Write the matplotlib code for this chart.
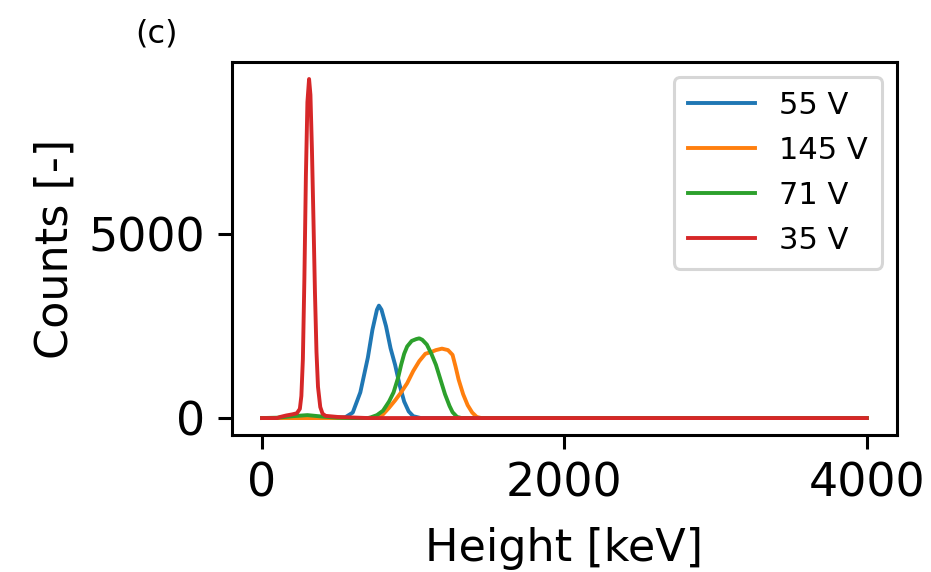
import matplotlib
matplotlib.use("Agg")
import matplotlib.pyplot as plt

# pulse height spectra, counts
labels = ["55 V", "145 V", "71 V", "35 V"]

x_55 = [0, 500, 550, 600, 650, 700, 730, 760, 773, 790, 820, 850, 880, 910, 940, 970, 1000, 1050, 4000]
y_55 = [0, 0, 20, 150, 700, 1650, 2400, 2950, 3060, 2950, 2500, 1900, 1450, 900, 450, 180, 50, 0, 0]

x_145 = [0, 740, 770, 800, 840, 880, 920, 960, 1000, 1040, 1080, 1120, 1150, 1190, 1230, 1260,
         1280, 1300, 1330, 1360, 1390, 1420, 1450, 4000]
y_145 = [0, 0, 30, 100, 280, 480, 700, 950, 1280, 1550, 1750, 1800, 1850, 1890, 1850, 1720,
         1400, 1050, 650, 350, 150, 30, 0, 0]

x_71 = [0, 100, 200, 300, 400, 500, 600, 700, 720, 760, 800, 840, 870, 900, 920, 940, 960, 990,
        1020, 1040, 1060, 1090, 1120, 1150, 1180, 1210, 1240, 1260, 1290, 1320, 4000]
y_71 = [0, 10, 50, 80, 40, 10, 0, 0, 20, 80, 200, 450, 700, 1100, 1450, 1750, 1950, 2100,
        2150, 2170, 2130, 2000, 1750, 1450, 1050, 650, 330, 160, 30, 0, 0]

x_35 = [0, 100, 120, 160, 200, 230, 250, 260, 270, 280, 290, 300, 311, 320, 330, 340, 350, 360,
        370, 385, 400, 420, 500, 700, 4000]
y_35 = [0, 0, 30, 70, 100, 130, 250, 600, 1600, 3800, 6600, 8600, 9230, 8800, 7300, 5400, 3400,
        1800, 850, 300, 120, 60, 30, 0, 0]

fig = plt.figure(figsize=(9.31, 5.72), dpi=100)
ax = fig.add_axes([0.249, 0.2395, 0.7145, 0.652])

lw = 2.8
ax.plot(x_55, y_55, color="tab:blue", lw=lw, label=labels[0])
ax.plot(x_145, y_145, color="tab:orange", lw=lw, label=labels[1])
ax.plot(x_71, y_71, color="tab:green", lw=lw, label=labels[2])
ax.plot(x_35, y_35, color="tab:red", lw=lw, label=labels[3])

ax.set_xticks([0, 2000, 4000])
ax.set_yticks([0, 5000])
ax.tick_params(labelsize=33, length=10, width=2.2, pad=9)
for s in ax.spines.values():
    s.set_linewidth(2.2)
ax.set_xlabel("Height [keV]", fontsize=32, labelpad=15)
ax.set_ylabel("Counts [-]", fontsize=32, labelpad=9)

leg = ax.legend(loc="upper right", fontsize=22, handlelength=2.2, borderpad=0.45,
                labelspacing=0.52, handletextpad=0.8)
leg.get_frame().set_linewidth(2.2)

fig.text(0.145, 0.94, "(c)", fontsize=23, ha="left", va="center")

fig.savefig("out.png", dpi=100)
